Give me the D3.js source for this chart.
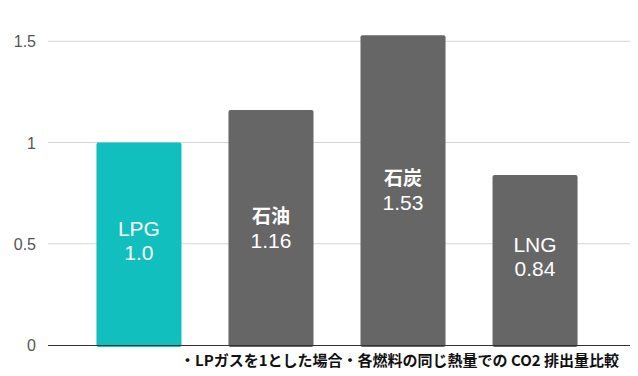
<!DOCTYPE html>
<html>
<head>
<meta charset="utf-8">
<script src="https://cdn.jsdelivr.net/npm/d3@7"></script>
<style>
  body { margin: 0; background: #fff; }
  .axis text { font-family: "Liberation Sans", Arial, sans-serif; font-size: 16px; fill: #555; }
  .grid line { stroke: #d4d4d4; stroke-width: 1; }
  .barlabel { font-family: "Liberation Sans", Arial, sans-serif; fill: #fff; text-anchor: middle; }
  .note { font-family: "Noto Sans CJK JP", sans-serif; font-weight: bold; font-size: 15px; fill: #111; }
</style>
</head>
<body>
<div id="chart"></div>
<script>
var fuels = ["LPG", "石油", "石炭", "LNG"];
var values = [1.0, 1.16, 1.53, 0.84];
var valueLabels = ["1.0", "1.16", "1.53", "0.84"];
var colors = ["#11bfbe", "#666666", "#666666", "#666666"];
var yTicks = [0, 0.5, 1, 1.5];
var note = "・LPガスを1とした場合・各燃料の同じ熱量での CO2 排出量比較";

var W = 638, H = 376;
var left = 48, right = 630, baseY = 345;

var svg = d3.select("#chart").append("svg")
  .attr("width", W).attr("height", H);

var y = d3.scaleLinear().domain([0, 1.5]).range([baseY, baseY - 1.5 * 202.5]);
var x = d3.scaleBand().domain(fuels).range([left, 626]).paddingInner(0.356).paddingOuter(0.367);

// gridlines
svg.append("g").attr("class", "grid")
  .selectAll("line").data(yTicks.filter(function(d){ return d > 0; }))
  .enter().append("line")
  .attr("x1", left).attr("x2", right)
  .attr("y1", function(d){ return y(d); }).attr("y2", function(d){ return y(d); });

// y labels
svg.append("g").attr("class", "axis")
  .selectAll("text").data(yTicks)
  .enter().append("text")
  .attr("x", 36).attr("y", function(d){ return y(d) + 6; })
  .attr("text-anchor", "end")
  .text(function(d){ return d; });

// bars
var data = fuels.map(function(f, i){ return { name: f, value: values[i], label: valueLabels[i], color: colors[i] }; });

svg.selectAll(".bar").data(data)
  .enter().append("rect")
  .attr("class", "bar")
  .attr("x", function(d){ return x(d.name); })
  .attr("y", function(d){ return y(d.value); })
  .attr("width", x.bandwidth())
  .attr("height", function(d){ return y(0) - y(d.value) + 2; })
  .attr("rx", 2)
  .attr("fill", function(d){ return d.color; });

// baseline
svg.append("line")
  .attr("x1", left).attr("x2", right)
  .attr("y1", baseY + 0.5).attr("y2", baseY + 0.5)
  .attr("stroke", "#333").attr("stroke-width", 1);

// labels inside bars
data.forEach(function(d, i){
  var cx = x(d.name) + x.bandwidth() / 2;
  var cy = (y(d.value) + y(0)) / 2;
  var isJa = i === 1 || i === 2;
  svg.append("text").attr("class", "barlabel")
    .attr("x", cx).attr("y", cy - (isJa ? 5 : 8))
    .style("font-size", isJa ? "19px" : "21px")
    .style("font-weight", isJa ? "bold" : "normal")
    .style("font-family", isJa ? "'Noto Sans CJK JP', sans-serif" : null)
    .text(d.name);
  svg.append("text").attr("class", "barlabel")
    .attr("x", cx).attr("y", cy + (isJa ? 20 : 16))
    .style("font-size", "21px")
    .text(d.label);
});

svg.append("text").attr("class", "note")
  .attr("x", 180).attr("y", 366)
  .text(note);
</script>
</body>
</html>
